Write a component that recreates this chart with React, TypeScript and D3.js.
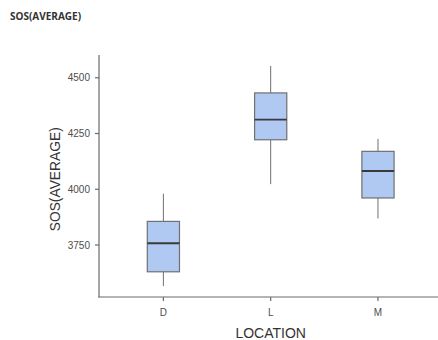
import React from 'react';
import * as d3 from 'd3';

const LOCATIONS = ["D", "L", "M"];
const WHISKER_LOW = [3566, 4023, 3869];
const Q1 = [3630, 4222, 3961];
const MEDIAN = [3758, 4312, 4082];
const Q3 = [3856, 4432, 4170];
const WHISKER_HIGH = [3980, 4553, 4226];
const Y_TICKS = [3750, 4000, 4250, 4500];

const width = 438;
const height = 340;
const margin = { top: 55, right: 0, bottom: 43, left: 99 };

const App: React.FC = () => {
    const innerHeight = height - margin.top - margin.bottom;

    // discrete axis with ggplot-style 0.6 expansion on each side
    const step = 107.3;
    const xScale = d3.scaleLinear()
        .domain([0.4, 3.6])
        .range([margin.left, margin.left + step * 3.2]);

    const yScale = d3.scaleLinear()
        .domain([3517, 4602])
        .range([margin.top + innerHeight, margin.top]);

    const boxHalf = 0.15;
    const axisColor = "#6b6b6b";
    const textColor = "#4d4d4d";

    return (
        <svg width={width} height={height} style={{ position: 'absolute', left: 0, top: 0, background: '#fff' }}>
            <text x={10} y={19.5} fontFamily="'Open Sans', sans-serif" fontWeight="bold" fontSize="10px" fill="#333">
                SOS(AVERAGE)
            </text>

            {LOCATIONS.map((loc, i) => {
                const cx = xScale(i + 1);
                const x0 = xScale(i + 1 - boxHalf);
                const x1 = xScale(i + 1 + boxHalf);
                return (
                    <g key={loc}>
                        <line x1={cx} x2={cx} y1={yScale(WHISKER_HIGH[i])} y2={yScale(Q3[i])} stroke="#707070" strokeWidth={1} />
                        <line x1={cx} x2={cx} y1={yScale(Q1[i])} y2={yScale(WHISKER_LOW[i])} stroke="#707070" strokeWidth={1} />
                        <rect
                            x={x0}
                            y={yScale(Q3[i])}
                            width={x1 - x0}
                            height={yScale(Q1[i]) - yScale(Q3[i])}
                            fill="#afc9f2"
                            stroke="#707070"
                            strokeWidth={1.2}
                        />
                        <line x1={x0} x2={x1} y1={yScale(MEDIAN[i])} y2={yScale(MEDIAN[i])} stroke="#3a3a3a" strokeWidth={1.8} />
                    </g>
                );
            })}

            {/* axes */}
            <line x1={margin.left} x2={margin.left} y1={margin.top} y2={margin.top + innerHeight + 0.6} stroke={axisColor} strokeWidth={1.2} />
            <line x1={margin.left - 0.6} x2={width} y1={margin.top + innerHeight} y2={margin.top + innerHeight} stroke={axisColor} strokeWidth={1.2} />

            {Y_TICKS.map(t => (
                <g key={t}>
                    <line x1={margin.left - 4} x2={margin.left} y1={yScale(t)} y2={yScale(t)} stroke={axisColor} strokeWidth={1.2} />
                    <text x={margin.left - 9} y={yScale(t)} textAnchor="end" dominantBaseline="central"
                        fontFamily="'Liberation Sans', Arial, sans-serif" fontSize="10px" fill={textColor}>
                        {t}
                    </text>
                </g>
            ))}

            {LOCATIONS.map((loc, i) => (
                <g key={loc}>
                    <line x1={xScale(i + 1)} x2={xScale(i + 1)} y1={margin.top + innerHeight} y2={margin.top + innerHeight + 4} stroke={axisColor} strokeWidth={1.2} />
                    <text x={xScale(i + 1)} y={margin.top + innerHeight + 15} textAnchor="middle" dominantBaseline="central"
                        fontFamily="'Liberation Sans', Arial, sans-serif" fontSize="10px" fill={textColor}>
                        {loc}
                    </text>
                </g>
            ))}

            <text x={xScale(2)} y={333} textAnchor="middle" dominantBaseline="central"
                fontFamily="'Liberation Sans', Arial, sans-serif" fontSize="14px" fill="#333">
                LOCATION
            </text>
            <text transform={`translate(55, ${yScale(4000) - 10}) rotate(-90)`} textAnchor="middle" dominantBaseline="central"
                fontFamily="'Liberation Sans', Arial, sans-serif" fontSize="13.8px" fill="#333">
                SOS(AVERAGE)
            </text>
        </svg>
    );
};

export default App;
